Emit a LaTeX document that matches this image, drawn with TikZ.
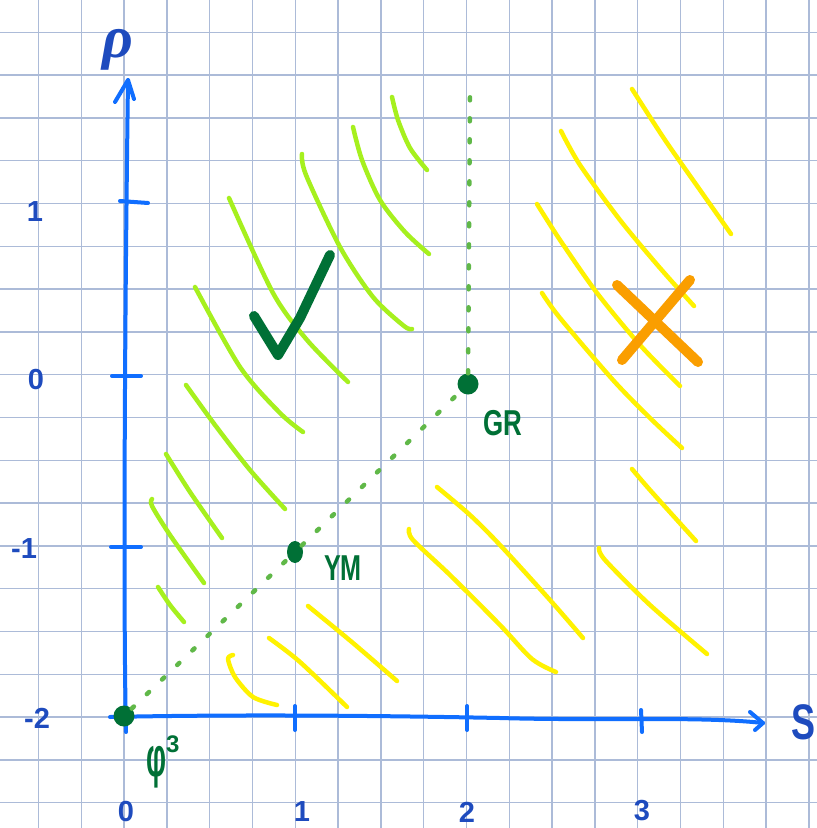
\documentclass[tikz,border=0pt]{standalone}
\usepackage{fontspec}
\setmainfont{Liberation Sans}
\newfontfamily\grkserif{Liberation Serif}
\usepackage{graphicx}
\usetikzlibrary{shapes.geometric}
\definecolor{gridc}{RGB}{172,187,216}
\definecolor{axisblue}{RGB}{16,110,255}
\definecolor{labelblue}{RGB}{30,75,190}
\definecolor{limeg}{RGB}{166,240,30}
\definecolor{yel}{RGB}{255,242,0}
\definecolor{dotg}{RGB}{96,184,72}
\definecolor{darkg}{RGB}{0,112,54}
\definecolor{orng}{RGB}{250,158,0}
\begin{document}
\begin{tikzpicture}[x=1pt,y=-1pt,
  gridline/.style={gridc,line width=1.4pt},
  axisline/.style={axisblue,line width=4pt,line cap=round,line join=round},
  hatchlime/.style={limeg,line width=4.5pt,line cap=round,line join=round},
  hatchyel/.style={yel,line width=4.5pt,line cap=round,line join=round},
  dotline/.style={dotg,line width=4.5pt,line cap=round,dash pattern=on 3pt off 18pt},
  lbl/.style={text=labelblue,font=\bfseries\fontsize{29}{29}\selectfont,inner sep=0pt},
  glbl/.style={text=darkg,font=\bfseries\fontsize{36}{36}\selectfont,inner sep=0pt},
  bigdot/.style={circle,fill=darkg,minimum size=21pt,inner sep=0pt},
  penstroke/.style={line width=10pt,line cap=round,line join=round}
]
\useasboundingbox (0,0) rectangle (817,828);
\fill[white] (0,0) rectangle (817,828);
% grid
\foreach \k in {-2,...,16} {
  \draw[gridline] ({124+42.8*\k},0) -- ({124+42.8*\k},828);
  \draw[gridline] (0,{717-42.8*\k}) -- (817,{717-42.8*\k});
}
% lime hatching
\draw[hatchlime] plot[smooth] coordinates {(392,97) (398,120) (410,148) (427,170)};
\draw[hatchlime] plot[smooth] coordinates {(353,127) (362,160) (380,200) (405,232) (429,254)};
\draw[hatchlime] plot[smooth] coordinates {(302,154) (306,175) (340,247) (373,297) (404,326) (412,329)};
\draw[hatchlime] plot[smooth] coordinates {(229,198) (273,293) (307,340) (348,382)};
\draw[hatchlime] plot[smooth] coordinates {(195,287) (240,367) (280,413) (303,432)};
\draw[hatchlime] plot[smooth] coordinates {(186,385) (215,425) (250,470) (285,509)};
\draw[hatchlime] plot[smooth] coordinates {(166,454) (190,492) (222,538)};
\draw[hatchlime] plot[smooth] coordinates {(152,499) (152,506) (170,535) (204,583)};
\draw[hatchlime] plot[smooth] coordinates {(158,587) (170,605) (184,622)};
% yellow hatching
\draw[hatchyel] plot[smooth] coordinates {(632,89) (665,140) (700,190) (731,234)};
\draw[hatchyel] plot[smooth] coordinates {(561,131) (580,165) (620,220) (660,268) (694,306)};
\draw[hatchyel] plot[smooth] coordinates {(537,204) (560,240) (597,293) (640,345) (680,386)};
\draw[hatchyel] plot[smooth] coordinates {(542,293) (560,318) (613,380) (650,418) (682,448)};
\draw[hatchyel] plot[smooth] coordinates {(632,469) (650,490) (696,541)};
\draw[hatchyel] plot[smooth] coordinates {(599,548) (605,560) (650,605) (707,654)};
\draw[hatchyel] plot[smooth] coordinates {(437,487) (470,515) (500,545) (550,600) (583,638)};
\draw[hatchyel] plot[smooth] coordinates {(409,529) (413,540) (450,575) (500,625) (532,659) (556,672)};
\draw[hatchyel] plot[smooth] coordinates {(308,606) (353,643) (397,681)};
\draw[hatchyel] plot[smooth] coordinates {(269,638) (300,662) (347,707)};
\draw[hatchyel] plot[smooth] coordinates {(233,655) (228,659) (235,677) (253,697) (277,705)};
% axes
\draw[axisline] (126,732) .. controls (123,600) and (125,300) .. (128,80);
\draw[axisline] (115,102) -- (128,80) -- (134,99);
\draw[axisline] (110,717) .. controls (250,714) and (400,716) .. (500,718)
  .. controls (600,721) and (700,716) .. (763,723);
\draw[axisline] (750,712) -- (763,723) -- (755,730);
% ticks
\draw[axisline] (120,201) -- (148,203);
\draw[axisline] (112,376) -- (141,376);
\draw[axisline] (111,547) -- (141,547);
\draw[axisline] (295,706) -- (295,730);
\draw[axisline] (467,706) -- (467,730);
\draw[axisline] (641,710) -- (642,732);
% axis labels
\node[lbl] (ry1) at (35,212) {1};
\node[lbl] (ry0) at (36,380) {0};
\node[lbl] (rym1) at (24,549) {-1};
\node[lbl] (rym2) at (37,718) {-2};
\node[lbl] (sx0) at (126,812) {0};
\node[lbl] (sx1) at (302,812) {1};
\node[lbl] (sx2) at (467,812) {2};
\node[lbl] (sx3) at (642,811) {3};
\node[text=labelblue,inner sep=0pt,font=\grkserif\itshape\bfseries\fontsize{60}{60}\selectfont] (rho) at (118,50) {ρ};
\node[text=labelblue,inner sep=0pt,font=\bfseries\fontsize{50}{50}\selectfont] (s) at (803,722) {\scalebox{0.72}[1]{S}};
% points
\node[bigdot] (phi) at (124,716) {};
\node[ellipse,fill=darkg,minimum width=16pt,minimum height=22pt,inner sep=0pt] (ym) at (295,552) {};
\node[bigdot] (gr) at (468,384) {};
\coordinate (top) at (470,95);
\draw[dotline] (phi) -- (ym) -- (gr) -- (top);
% point labels
\node[glbl] (grl) at (503,423) {\scalebox{0.72}[1]{GR}};
\node[glbl] (yml) at (343,568) {\scalebox{0.7}[1]{YM}};
\node[text=darkg,inner sep=0pt,font=\bfseries\fontsize{56}{56}\selectfont,anchor=north west] (phil) at (146,736) {\scalebox{0.5}[1]{φ}\raisebox{24pt}{\fontsize{24}{24}\selectfont 3}};
% check mark and cross
\draw[darkg,penstroke] (254,316) -- (278,355) -- (300,318) -- (330,255);
\draw[orng,penstroke] (617,285) -- (698,362);
\draw[orng,penstroke] (622,360) -- (690,280);
\end{tikzpicture}
\end{document}
